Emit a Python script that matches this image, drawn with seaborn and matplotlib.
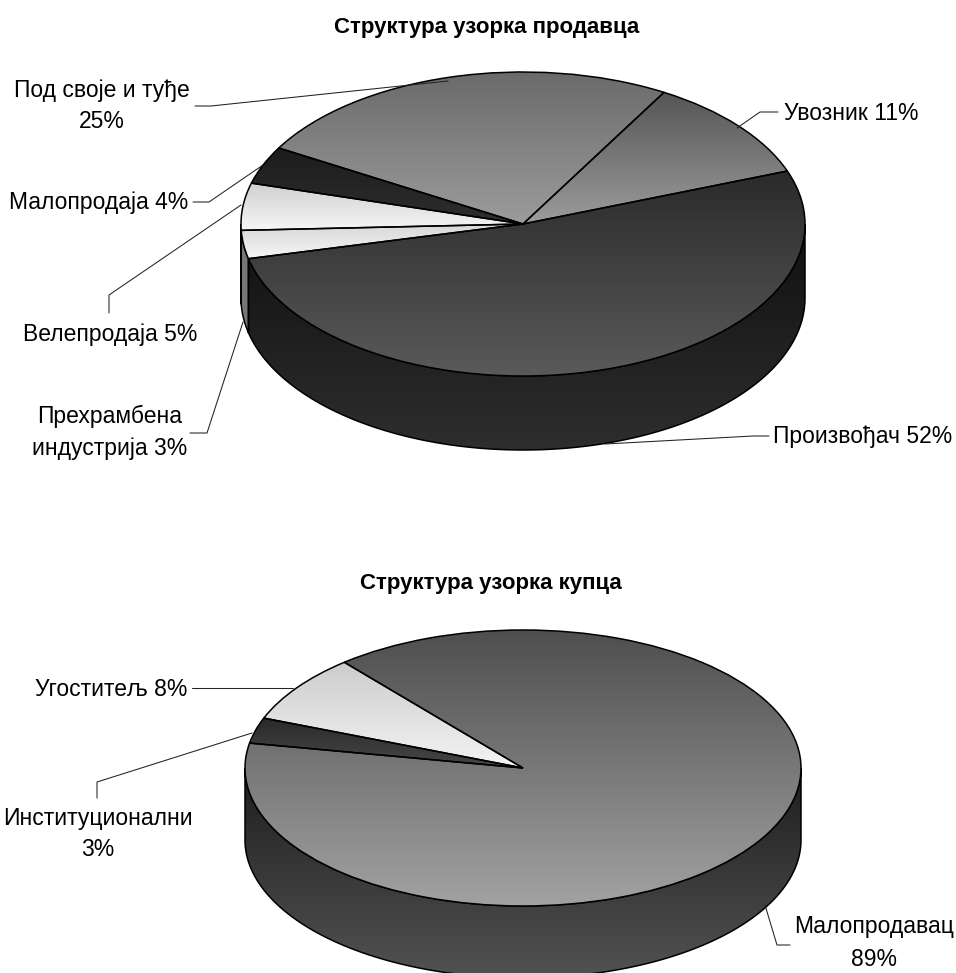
import numpy as np
import seaborn as sns
import matplotlib
matplotlib.use("Agg")
import matplotlib.pyplot as plt
from matplotlib.patches import Polygon

# ---- data ----
seller_title = "Структура узорка продавца"
seller_categories = ["Увозник", "Произвођач", "Прехрамбена индустрија", "Велепродаја", "Малопродаја", "Под своје и туђе"]
seller_values = [11, 52, 3, 5, 4, 25]
buyer_title = "Структура узорка купца"
buyer_categories = ["Малопродавац", "Институционални", "Угоститељ"]
buyer_values = [89, 3, 8]

# ---- style ----
seller_faces = [("#555555", "#9c9c9c"), ("#2a2a2a", "#5a5a5a"), ("#d8d8d8", "#f6f6f6"),
                ("#cfcfcf", "#f6f6f6"), ("#1c1c1c", "#2e2e2e"), ("#6a6a6a", "#9c9c9c")]
seller_walls = [("#333333", "#555555"), ("#101010", "#2e2e2e"), ("#777777", "#777777"),
                ("#888888", "#888888"), ("#111111", "#222222"), ("#444444", "#666666")]
buyer_faces = [("#4e4e4e", "#a2a2a2"), ("#2a2a2a", "#474747"), ("#cccccc", "#f4f4f4")]
buyer_walls = [("#1e1e1e", "#525252"), ("#222222", "#333333"), ("#888888", "#aaaaaa")]

sns.set_theme(style="white")
plt.rcParams["font.family"] = ["Liberation Sans", "DejaVu Sans"]

W, H = 956, 973
fig = plt.figure(figsize=(W / 100, H / 100), dpi=100, facecolor="white")


def disc(values, faces, walls, start, cx, cy, rx, ry, depth):
    ax = fig.add_axes([0, 0, 1, 1])
    wedges, _ = ax.pie(values, startangle=start, counterclock=False, radius=1, center=(0, 0))
    ax.set_aspect("auto")
    d = depth / ry
    for w, (f0, f1), (w0, w1) in zip(wedges, faces, walls):
        # side wall: visible part of the slice arc
        for shift in (-720, -360, 0, 360):
            lo, hi = max(w.theta1, 180 + shift), min(w.theta2, 360 + shift)
            if hi <= lo:
                continue
            t = np.radians(np.linspace(lo, hi, 120))
            xs, ys = np.cos(t), np.sin(t)
            pts = np.r_[np.c_[xs, ys], np.c_[xs, ys - d][::-1]]
            poly = Polygon(pts, closed=True, facecolor="none", edgecolor="black", linewidth=1.1, zorder=3)
            ax.add_patch(poly)
            im = ax.imshow(np.linspace(0, 1, 256)[:, None], extent=(xs.min(), xs.max(), pts[:, 1].min(), pts[:, 1].max()),
                           aspect="auto", cmap=sns.blend_palette([w0, w1], as_cmap=True), vmin=0, vmax=1, zorder=2)
            im.set_clip_path(poly)
        # top face
        bb = w.get_patch_transform().transform_path(w.get_path()).get_extents()
        im = ax.imshow(np.linspace(0, 1, 256)[:, None], extent=(bb.x0, bb.x1, bb.y0, bb.y1), aspect="auto",
                       cmap=sns.blend_palette([f0, f1], as_cmap=True), vmin=0, vmax=1, zorder=4)
        im.set_clip_path(w)
        w.set(facecolor="none", edgecolor="black", linewidth=1.1, zorder=5)
    ax.set_xlim((0 - cx) / rx, (W - cx) / rx)
    ax.set_ylim((cy - H) / ry, cy / ry)
    ax.set_axis_off()
    return ax


disc(seller_values, seller_faces, seller_walls, 60, 523, 224, 282, 152, 74)
disc(buyer_values, buyer_faces, buyer_walls, 130, 523, 768, 278, 138, 72)

# overlay for titles, labels, and leader lines, in figure pixels
ov = fig.add_axes([0, 0, 1, 1])
ov.set_xlim(0, W)
ov.set_ylim(H, 0)
ov.set_axis_off()
ov.patch.set_alpha(0)

FS = 16.5


def label(s, x, y):
    ov.text(x, y, s, ha="center", va="center", fontsize=FS, color="black", linespacing=1.5, clip_on=False)


def leader(xs, ys):
    ov.plot(xs, ys, color="#222222", lw=0.75, solid_joinstyle="miter")


ov.text(487, 27, seller_title, ha="center", va="center", fontsize=16, fontweight="bold", color="black")
ov.text(491, 584, buyer_title, ha="center", va="center", fontsize=16, fontweight="bold", color="black")

label("Под своје и туђе\n25%", 102, 106)
leader([195, 211, 448], [106, 106, 81])
label("Увозник 11%", 851, 113)
leader([778, 760, 737], [112, 112, 128])
label("Малопродаја 4%", 99, 202)
leader([193, 209, 263], [202, 202, 165])
label("Велепродаја 5%", 110, 335)
leader([109, 109, 241], [313, 295, 205])
label("Прехрамбена\nиндустрија 3%", 110, 432)
leader([190, 207, 243], [433, 433, 322])
label("Произвођач 52%", 863, 437)
leader([769, 753, 605], [436, 436, 444])
label("Угоститељ 8%", 111, 689)
leader([192, 293], [688, 688])
label("Институционални\n3%", 98, 834)
leader([97, 97, 252], [798, 782, 733])
label("Малопродавац\n89%", 874, 943)
leader([790, 777, 765], [945, 945, 905])

fig.savefig("out.png", dpi=100, facecolor="white")
